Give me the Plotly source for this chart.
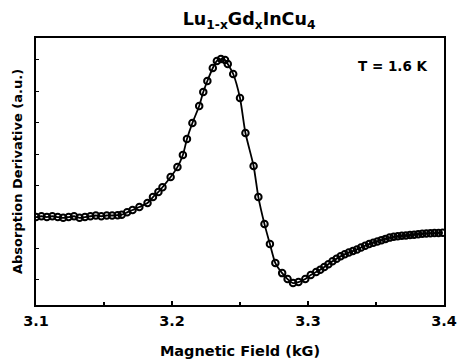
import plotly.graph_objects as go

# Magnetic field (kG)
field = [3.100, 3.104, 3.108, 3.112, 3.116, 3.120, 3.124, 3.128, 3.132, 3.136,
         3.140, 3.144, 3.148, 3.152, 3.156, 3.160, 3.163, 3.167, 3.171, 3.176,
         3.182, 3.186, 3.190, 3.193, 3.199, 3.204, 3.208, 3.211, 3.215, 3.220,
         3.223, 3.226, 3.230, 3.233, 3.236, 3.239, 3.241, 3.245, 3.250, 3.254,
         3.260, 3.2635, 3.268, 3.272, 3.276, 3.281, 3.285, 3.289, 3.293, 3.298,
         3.302, 3.306, 3.309, 3.312, 3.315, 3.318, 3.321, 3.324, 3.327, 3.330,
         3.333, 3.336, 3.339, 3.342, 3.345, 3.348, 3.351, 3.354, 3.357, 3.360,
         3.363, 3.366, 3.369, 3.372, 3.375, 3.378, 3.381, 3.384, 3.387, 3.390,
         3.393, 3.396, 3.399]
# Absorption derivative (a.u.)
signal = [0.000, 0.005, 0.000, 0.005, 0.000, -0.005, 0.000, 0.005, -0.005, 0.000,
          0.005, 0.010, 0.005, 0.010, 0.010, 0.012, 0.015, 0.030, 0.045, 0.064,
          0.089, 0.127, 0.160, 0.190, 0.255, 0.318, 0.395, 0.497, 0.599, 0.707,
          0.796, 0.866, 0.949, 0.994, 1.006, 1.000, 0.975, 0.911, 0.758, 0.535,
          0.325, 0.127, -0.045, -0.172, -0.293, -0.357, -0.395, -0.420, -0.414, -0.395,
          -0.369, -0.350, -0.335, -0.318, -0.300, -0.282, -0.265, -0.250, -0.237, -0.226,
          -0.216, -0.206, -0.194, -0.183, -0.172, -0.163, -0.155, -0.147, -0.139, -0.131,
          -0.126, -0.122, -0.119, -0.117, -0.115, -0.112, -0.109, -0.107, -0.105, -0.103,
          -0.102, -0.101, -0.100]

x_ticks = [3.1, 3.2, 3.3, 3.4]
x_ticklabels = ["3.1", "3.2", "3.3", "3.4"]

font = "DejaVu Sans, sans-serif"

fig = go.Figure()
fig.add_trace(go.Scatter(
    x=field, y=signal, mode="lines",
    line=dict(color="black", width=1.8, shape="spline", smoothing=0.6),
    hoverinfo="skip", showlegend=False))
fig.add_trace(go.Scatter(
    x=field, y=signal, mode="markers",
    marker=dict(symbol="circle-open", size=6.5, color="black",
                line=dict(width=2, color="black")),
    showlegend=False))

fig.update_layout(
    width=457, height=360,
    margin=dict(l=36, r=13, t=38, b=55, autoexpand=False),
    paper_bgcolor="white", plot_bgcolor="white",
    title=dict(text="<b>Lu<sub>1-x</sub>Gd<sub>x</sub>InCu<sub>4</sub></b>",
               x=0.545, xanchor="center", y=0.948, yanchor="middle",
               font=dict(family=font, size=17.5, color="black")),
    xaxis=dict(range=[3.1, 3.4], tickvals=x_ticks, ticktext=["<b>%s</b>" % t for t in x_ticklabels],
               ticks="inside", ticklen=4, tickwidth=1.5, tickcolor="black",
               minor=dict(dtick=0.05, ticks="inside", ticklen=3, tickcolor="black"),
               showline=True, linewidth=2, linecolor="black", mirror=True,
               showgrid=False, zeroline=False, automargin=False,
               ticklabelstandoff=2,
               tickfont=dict(family=font, size=14.5, color="black"),
               title=dict(text="<b>Magnetic Field (kG)</b>", standoff=17,
                          font=dict(family=font, size=14.5, color="black"))),
    yaxis=dict(range=[-0.56, 1.14], showticklabels=False,
               dtick=0.2, ticks="inside", ticklen=3, tickwidth=1, tickcolor="black",
               showline=True, linewidth=2, linecolor="black", mirror=True,
               showgrid=False, zeroline=False, automargin=False,
               title=dict(text="<b>Absorption Derivative (a.u.)</b>", standoff=8,
                          font=dict(family=font, size=13, color="black"))),
    annotations=[dict(text="<b>T = 1.6 K</b>", x=0.965, y=0.895, xref="paper", yref="paper",
                      xanchor="right", yanchor="middle", showarrow=False,
                      font=dict(family=font, size=13.5, color="black"))],
)

fig.write_html("out.html")
